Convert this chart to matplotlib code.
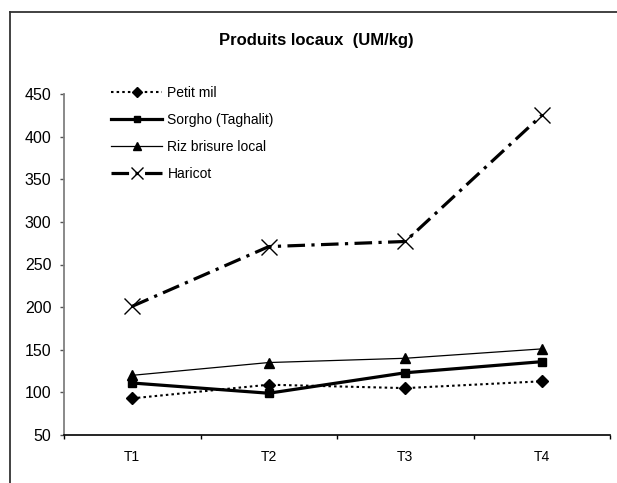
import matplotlib.pyplot as plt
from matplotlib.lines import Line2D

plt.rcParams['font.family'] = ['Liberation Sans', 'DejaVu Sans']

periodes = ["T1", "T2", "T3", "T4"]
petit_mil = [93, 109, 105, 113]
sorgho = [111, 99, 123, 136]
riz = [120, 135, 140, 151]
haricot = [201, 271, 277, 425]

x = list(range(len(periodes)))

fig = plt.figure(figsize=(6.17, 4.83), dpi=100)
W, H = 617, 483

# cadre du graphique
fig.add_artist(Line2D([10 / W, 10 / W], [0, 1 - 12 / H], color='#333333', lw=1.3))
fig.add_artist(Line2D([10 / W, 1], [1 - 12 / H, 1 - 12 / H], color='#333333', lw=1.3))

ax = fig.add_axes([64 / W, 1 - 435 / H, (610 - 64) / W, (435 - 94) / H])

ax.plot(x, petit_mil, color='black', lw=1.5, linestyle=(0, (1.2, 1.5)),
        marker='D', markersize=6, label="Petit mil", clip_on=False)
ax.plot(x, sorgho, color='black', lw=2.3, linestyle='-',
        marker='s', markersize=6, label="Sorgho (Taghalit)", clip_on=False)
ax.plot(x, riz, color='black', lw=0.9, linestyle='-',
        marker='^', markersize=7, label="Riz brisure local", clip_on=False)
ax.plot(x, haricot, color='black', lw=2.3, linestyle=(0, (5.5, 2, 1, 2)),
        marker='x', markersize=11, markeredgewidth=1, label="Haricot", clip_on=False)

ax.set_xlim(-0.5, 3.5)
ax.set_ylim(50, 450)
ax.set_yticks(range(50, 451, 50))
ax.set_xticks([-0.5, 0.5, 1.5, 2.5, 3.5])
ax.set_xticklabels([])
ax.set_xticks(x, minor=True)
ax.set_xticklabels(periodes, minor=True)

ax.tick_params(axis='y', direction='out', length=3, width=1, color='#555555',
               labelsize=11.5, pad=6)
ax.tick_params(axis='x', which='major', direction='out', length=3, width=1)
ax.tick_params(axis='x', which='minor', length=0, labelsize=10, pad=11)

ax.spines['top'].set_visible(False)
ax.spines['right'].set_visible(False)
ax.spines['left'].set_color('#808080')
ax.spines['left'].set_linewidth(1.3)
ax.spines['bottom'].set_linewidth(1.2)

fig.text(316 / W, 1 - 40 / H, "Produits locaux  (UM/kg)", ha='center', va='center',
         fontsize=12, fontweight='bold')

ax.legend(loc='upper left', bbox_to_anchor=(111 / W, 1 - 86 / H),
          bbox_transform=fig.transFigure, frameon=False, fontsize=10,
          handlelength=3.7, handletextpad=0.36, labelspacing=0.93,
          borderpad=0, borderaxespad=0, markerscale=0.8)

fig.savefig("out.png", dpi=100)
